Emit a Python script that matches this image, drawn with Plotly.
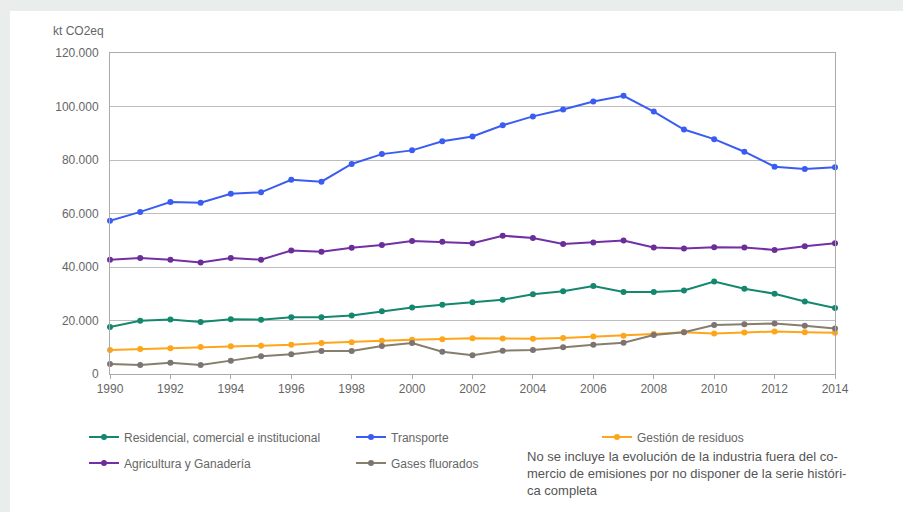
import plotly.graph_objects as go

years = list(range(1990, 2015))

residencial = [17600, 19900, 20400, 19400, 20500, 20300, 21200, 21200, 21900, 23500,
               24900, 25900, 26800, 27800, 29800, 30900, 32900, 30700, 30700, 31200,
               34600, 31900, 30000, 27100, 24700]
transporte = [57300, 60600, 64300, 64000, 67400, 67900, 72600, 71900, 78500, 82200,
              83600, 87000, 88800, 93000, 96300, 98900, 101900, 104000, 98100, 91400,
              87800, 83100, 77500, 76600, 77300]
residuos = [9000, 9300, 9600, 10100, 10400, 10600, 10900, 11600, 11900, 12400,
            12800, 13000, 13400, 13300, 13200, 13500, 14000, 14300, 15000, 15600,
            15100, 15500, 15900, 15600, 15400]
agricultura = [42700, 43400, 42700, 41700, 43400, 42700, 46200, 45700, 47200, 48200,
               49700, 49400, 48900, 51700, 50800, 48600, 49200, 49900, 47300, 46900,
               47400, 47300, 46400, 47800, 48900]
gases = [3750, 3400, 4200, 3400, 5000, 6600, 7400, 8600, 8600, 10500,
         11600, 8300, 7000, 8700, 9000, 10000, 10900, 11700, 14600, 15600,
         18300, 18600, 18900, 18000, 17000]

series_names = ["Residencial, comercial e institucional", "Transporte", "Gestión de residuos",
                "Agricultura y Ganadería", "Gases fluorados"]
series_values = [residencial, transporte, residuos, agricultura, gases]
line_colors = ["#14876f", "#3b5cf2", "#ffa51a", "#7330a6", "#857f6c"]
marker_colors = ["#14876f", "#3b5cf2", "#ffa51a", "#6a2e99", "#7d7373"]
legend_ids = ["legend", "legend", "legend3", "legend2", "legend2"]

y_ticks = [0, 20000, 40000, 60000, 80000, 100000, 120000]
x_ticks = list(range(1990, 2015, 2))

fig = go.Figure()
for name, vals, lc, mc, lg in zip(series_names, series_values, line_colors, marker_colors, legend_ids):
    fig.add_trace(go.Scatter(
        x=years, y=vals, name=name, mode="lines+markers",
        line=dict(color=lc, width=2),
        marker=dict(color=mc, size=6),
        cliponaxis=False, legend=lg,
    ))

W, H = 903, 512
L, R, T, B = 110, 68, 53, 138
pw, ph = W - L - R, H - T - B

def px(x):
    return (x - L) / pw

def py(y):
    return (H - B - y) / ph

band = "#e9eeec"
shapes = [
    dict(type="rect", xref="paper", yref="paper", x0=px(0), x1=px(W), y0=py(0), y1=py(11),
         fillcolor=band, line=dict(width=0), layer="below"),
    dict(type="rect", xref="paper", yref="paper", x0=px(0), x1=px(10), y0=py(0), y1=py(H),
         fillcolor=band, line=dict(width=0), layer="below"),
]

font_fam = "Liberation Sans, Arial, sans-serif"
leg_common = dict(orientation="h", xanchor="left", yanchor="middle",
                  entrywidth=222, entrywidthmode="pixels", itemwidth=30,
                  font=dict(size=12, color="#666666"), bgcolor="rgba(0,0,0,0)")
fig.update_layout(
    width=W, height=H,
    margin=dict(l=L, r=R, t=T, b=B),
    paper_bgcolor="white", plot_bgcolor="white",
    separators=",.",
    font=dict(family=font_fam, size=12, color="#666666"),
    shapes=shapes,
    xaxis=dict(range=[1990, 2014], tickvals=x_ticks, ticks="outside", ticklen=4,
               tickcolor="#aaaaaa", showgrid=False, showline=True, linecolor="#aaaaaa",
               mirror=True, zeroline=False, tickfont=dict(size=12, color="#666666")),
    yaxis=dict(range=[0, 120000], tickvals=y_ticks, tickformat=",.0f", showgrid=True,
               gridcolor="#bdbdbd", showline=True, linecolor="#aaaaaa", mirror=True,
               zeroline=False, ticks="", ticklabelstandoff=8, tickfont=dict(size=12, color="#666666")),
    legend=dict(x=px(84), y=py(437), **leg_common),
    legend2=dict(x=px(84), y=py(463), **leg_common),
    legend3=dict(x=px(597), y=py(437), **leg_common),
    annotations=[
        dict(text="kt CO2eq", xref="paper", yref="paper", x=px(51), y=py(31),
             xanchor="left", yanchor="middle", showarrow=False,
             font=dict(size=12, color="#666666")),
        dict(text="No se incluye la evolución de la industria fuera del co-<br>"
                  "mercio de emisiones por no disponer de la serie históri-<br>"
                  "ca completa",
             xref="paper", yref="paper", x=px(525), y=py(447), xanchor="left", yanchor="top",
             align="left", showarrow=False, font=dict(size=13, color="#555555")),
    ],
)

fig.write_html("out.html", config={"displayModeBar": False},
               post_script="document.body.style.margin='0';document.body.style.overflow='hidden';")
